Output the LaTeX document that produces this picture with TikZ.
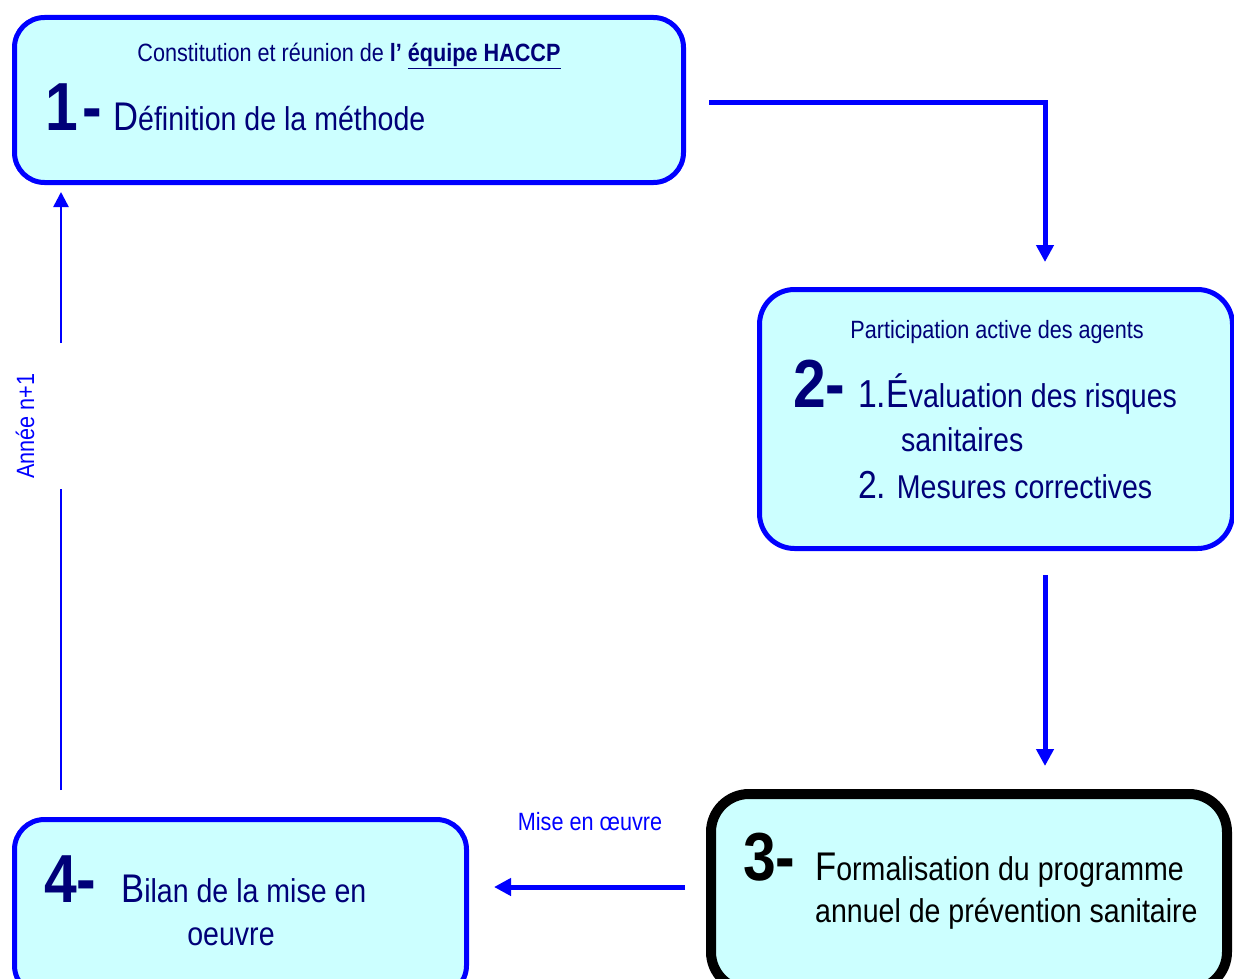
\documentclass[tikz,border=0pt]{standalone}
\usepackage{fontspec}
\setmainfont{Liberation Sans}[FakeStretch=0.865]
\usetikzlibrary{arrows.meta}

\definecolor{boxfill}{RGB}{204,255,255}
\definecolor{navytext}{RGB}{0,0,120}
\definecolor{flowblue}{RGB}{0,0,255}

\newcommand{\stagenum}[1]{{\fontsize{68}{68}\selectfont\bfseries #1}}
\newcommand{\capletter}[1]{{\fontsize{40}{40}\selectfont #1}}
\newcommand{\subnum}[1]{{\fontsize{39}{39}\selectfont #1}}

\begin{document}
\begin{tikzpicture}[x=1pt, y=-1pt,
    stagebox/.style={draw=flowblue, line width=5pt, fill=boxfill, rounded corners=30pt, inner sep=0pt},
    maintext/.style={anchor=base west, inner sep=0pt, font=\fontsize{33}{40}\selectfont, text=navytext},
    smalltext/.style={anchor=base, inner sep=0pt, font=\fontsize{25}{30}\selectfont, text=navytext},
    flow/.style={draw=flowblue, line width=5pt, -{Triangle[length=17pt,width=17pt]}},
    thinflow/.style={draw=flowblue, line width=2.5pt}]
    \useasboundingbox (0,0) rectangle (1234,979);
    \clip (0,0) rectangle (1234,979);

    % The four stages
    \node[stagebox, minimum width=669pt, minimum height=165pt] (b1) at (349,100) {};
    \node[stagebox, rounded corners=35pt, minimum width=473pt, minimum height=259pt] (b2) at (996,419) {};
    \node[stagebox, draw=black, line width=10pt, rounded corners=38pt, minimum width=516pt, minimum height=196pt] (b3) at (969,892) {};
    \node[stagebox, minimum width=452pt, minimum height=176pt] (b4) at (240.5,907.5) {};

    % Stage 1
    \node[smalltext] (t1a) at (349,62) {Constitution et réunion de \textbf{l’ \underline{équipe HACCP}}};
    \node[maintext] (t1n) at (45,131) {\stagenum{1\kern5pt-}};
    \node[maintext] (t1b) at (113,131) {\capletter{D}éfinition de la méthode};

    % Stage 2
    \node[smalltext] (t2a) at (997,338) {Participation active des agents};
    \node[maintext] (t2n) at (793,407) {\stagenum{2-}};
    \node[maintext] (t2b) at (858,407) {\subnum{1.É}valuation des risques};
    \node[maintext] (t2c) at (901,451) {sanitaires};
    \node[maintext] (t2d) at (858,498) {\subnum{2.} Mesures correctives};

    % Stage 3
    \node[maintext, text=black] (t3n) at (743,880) {\stagenum{3-}};
    \node[maintext, text=black] (t3b) at (815,880) {\capletter{F}ormalisation du programme};
    \node[maintext, text=black] (t3c) at (815,922) {annuel de prévention sanitaire};

    % Stage 4
    \node[maintext] (t4n) at (44,902) {\stagenum{4-}};
    \node[maintext] (t4b) at (121,902) {\capletter{B}ilan de la mise en};
    \node[smalltext, font=\fontsize{33}{40}\selectfont] (t4c) at (231,945) {oeuvre};

    % Connectors
    \coordinate (a12s) at (709,103);
    \coordinate (a12e) at (1045,262);
    \draw[flow] (a12s) -| (a12e);

    \coordinate (a23s) at (1045,575);
    \coordinate (a23e) at (1045,766);
    \draw[flow] (a23s) -- (a23e);

    \coordinate (a34s) at (685,887);
    \coordinate (a34e) at (494,887);
    \draw[flow] (a34s) -- (a34e);
    \node[smalltext, text=flowblue] (l34) at (590,830) {Mise en œuvre};

    % Back to stage 1, next year
    \coordinate (a41s) at (61,790);
    \coordinate (a41g) at (61,489);
    \coordinate (a41h) at (61,343);
    \coordinate (a41e) at (61,192);
    \draw[thinflow] (a41s) -- (a41g);
    \draw[thinflow, -{Triangle[length=15pt,width=15pt]}] (a41h) -- (a41e);
    \node[smalltext, anchor=center, rotate=90, text=flowblue] (l41) at (25,426) {Année n+1};
\end{tikzpicture}
\end{document}
